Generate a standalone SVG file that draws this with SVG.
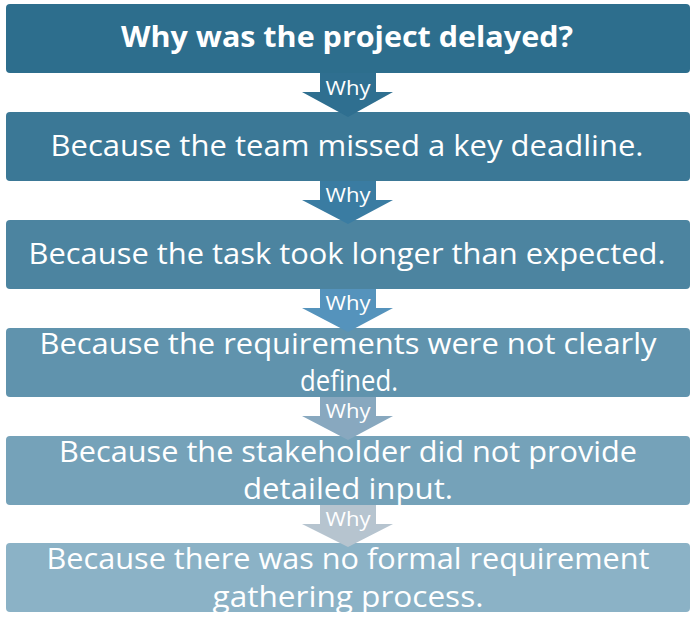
<svg xmlns="http://www.w3.org/2000/svg" width="696" height="618" viewBox="0 0 696 618">
<style>
.box{stroke:none}
.t{font-family:"Open Sans","Liberation Sans",sans-serif;font-size:29px;fill:#ffffff;text-anchor:middle}
.title{font-weight:bold;font-size:28px}
.why{font-family:"Open Sans","Liberation Sans",sans-serif;font-size:20px;fill:#ffffff;text-anchor:middle}
</style>
<rect width="696" height="618" fill="#ffffff"/>
<g id="node1"><rect class="box" x="6" y="4" width="684" height="69" rx="4" fill="#2D6E8D"/>
<text class="t title" x="347" y="47" textLength="452" lengthAdjust="spacingAndGlyphs">Why was the project delayed?</text></g>
<g id="node2"><rect class="box" x="6" y="112" width="684" height="69" rx="4" fill="#3B7896"/>
<text class="t" x="347" y="156" textLength="593" lengthAdjust="spacingAndGlyphs">Because the team missed a key deadline.</text></g>
<g id="node3"><rect class="box" x="6" y="220" width="684" height="69" rx="4" fill="#4C84A0"/>
<text class="t" x="347" y="264" textLength="637" lengthAdjust="spacingAndGlyphs">Because the task took longer than expected.</text></g>
<g id="node4"><rect class="box" x="6" y="328" width="684" height="69" rx="4" fill="#6093AD"/>
<text class="t" x="348" y="354" textLength="617" lengthAdjust="spacingAndGlyphs">Because the requirements were not clearly</text>
<text class="t" x="349" y="391" textLength="98" lengthAdjust="spacingAndGlyphs">defined.</text></g>
<g id="node5"><rect class="box" x="6" y="436" width="684" height="69" rx="4" fill="#75A2B9"/>
<text class="t" x="348" y="462" textLength="578" lengthAdjust="spacingAndGlyphs">Because the stakeholder did not provide</text>
<text class="t" x="348" y="499" textLength="210" lengthAdjust="spacingAndGlyphs">detailed input.</text></g>
<g id="node6"><rect class="box" x="6" y="543" width="684" height="69" rx="4" fill="#8BB2C6"/>
<text class="t" x="348" y="569" textLength="603" lengthAdjust="spacingAndGlyphs">Because there was no formal requirement</text>
<text class="t" x="348" y="607" textLength="271" lengthAdjust="spacingAndGlyphs">gathering process.</text></g>
<g id="connectors">
<path d="M320,73 H376 V92 H393 L348,117 L302,92 H320 Z" fill="#2F6F90"/>
<text class="why" x="348" y="95" textLength="45" lengthAdjust="spacingAndGlyphs">Why</text>
<path d="M320,181 H376 V200 H393 L348,224 L302,200 H320 Z" fill="#3A7CA2"/>
<text class="why" x="348" y="202" textLength="45" lengthAdjust="spacingAndGlyphs">Why</text>
<path d="M320,289 H376 V308 H393 L348,332 L302,308 H320 Z" fill="#5593BC"/>
<text class="why" x="348" y="310" textLength="45" lengthAdjust="spacingAndGlyphs">Why</text>
<path d="M320,397 H376 V416 H393 L348,440 L302,416 H320 Z" fill="#88A8BF"/>
<text class="why" x="348" y="418" textLength="45" lengthAdjust="spacingAndGlyphs">Why</text>
<path d="M320,505 H376 V524 H393 L348,547 L302,524 H320 Z" fill="#B6C4CF"/>
<text class="why" x="348" y="526" textLength="45" lengthAdjust="spacingAndGlyphs">Why</text>
</g>
</svg>
